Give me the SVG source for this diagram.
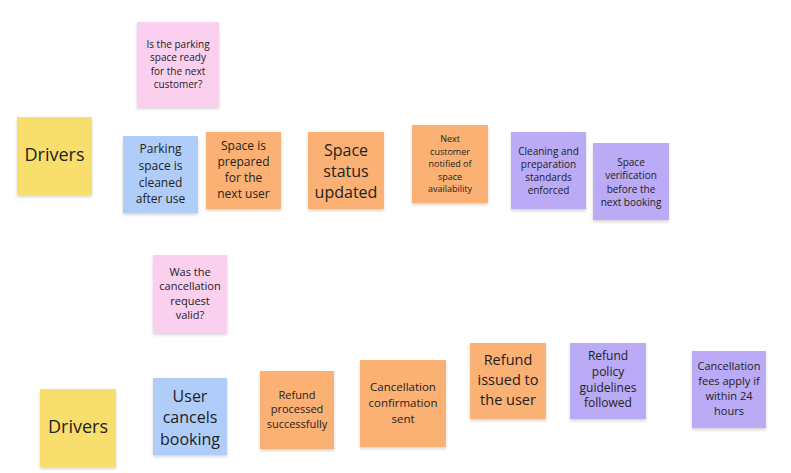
<svg xmlns="http://www.w3.org/2000/svg" width="791" height="473" viewBox="0 0 791 473">
<defs>
<filter id="sh" x="-20%" y="-20%" width="140%" height="150%">
<feDropShadow dx="0" dy="2" stdDeviation="1.6" flood-color="#000" flood-opacity="0.16"/>
</filter>
<style>
.n{filter:url(#sh)}
.y{fill:#f8df6d}
.p{fill:#fbd0ef}
.b{fill:#afcdf8}
.o{fill:#fbb173}
.v{fill:#bbaaf5}
text{font-family:"Open Sans","DejaVu Sans",sans-serif;fill:#222;text-anchor:middle}
</style>
</defs>
<rect width="791" height="473" fill="#fff"/>
<g id="connectors"/>
<g id="drivers1"><rect class="n y" x="17" y="117" width="75" height="78"/><text x="54.5" y="161" font-size="18">Drivers</text></g>
<g id="q1"><rect class="n p" x="137" y="22" width="82" height="85"/><text font-size="10"><tspan x="178" y="47.5">Is the parking</tspan><tspan x="178" y="61">space ready</tspan><tspan x="178" y="74.5">for the next</tspan><tspan x="178" y="88">customer?</tspan></text></g>
<g id="cleaned"><rect class="n b" x="123" y="136" width="75" height="77"/><text font-size="12"><tspan x="160.5" y="153">Parking</tspan><tspan x="160.5" y="170">space is</tspan><tspan x="160.5" y="186.5">cleaned</tspan><tspan x="160.5" y="203">after use</tspan></text></g>
<g id="prepared"><rect class="n o" x="206" y="132" width="75" height="77"/><text font-size="12"><tspan x="243.5" y="150">Space is</tspan><tspan x="243.5" y="166">prepared</tspan><tspan x="243.5" y="182">for the</tspan><tspan x="243.5" y="198">next user</tspan></text></g>
<g id="status"><rect class="n o" x="308" y="132" width="76" height="77"/><text font-size="16"><tspan x="346" y="155.6">Space</tspan><tspan x="346" y="176.6">status</tspan><tspan x="346" y="197.6">updated</tspan></text></g>
<g id="notified"><rect class="n o" x="412" y="125" width="76" height="78"/><text font-size="9"><tspan x="450" y="142.2">Next</tspan><tspan x="450" y="154.7">customer</tspan><tspan x="450" y="167.2">notified of</tspan><tspan x="450" y="179.7">space</tspan><tspan x="450" y="192.2">availability</tspan></text></g>
<g id="standards"><rect class="n v" x="511" y="132" width="75" height="77"/><text font-size="10"><tspan x="548.5" y="154.5">Cleaning and</tspan><tspan x="548.5" y="167.5">preparation</tspan><tspan x="548.5" y="180.5">standards</tspan><tspan x="548.5" y="193.5">enforced</tspan></text></g>
<g id="verification"><rect class="n v" x="593" y="143" width="76" height="77"/><text font-size="10"><tspan x="631" y="165.5">Space</tspan><tspan x="631" y="179">verification</tspan><tspan x="631" y="192.5">before the</tspan><tspan x="631" y="206">next booking</tspan></text></g>
<g id="q2"><rect class="n p" x="153" y="255" width="74" height="78"/><text font-size="11"><tspan x="190" y="275.9">Was the</tspan><tspan x="190" y="290.4">cancellation</tspan><tspan x="190" y="304.9">request</tspan><tspan x="190" y="319.4">valid?</tspan></text></g>
<g id="drivers2"><rect class="n y" x="40" y="389" width="76" height="78"/><text x="78" y="433" font-size="18">Drivers</text></g>
<g id="cancels"><rect class="n b" x="153" y="378" width="74" height="77"/><text font-size="16"><tspan x="190" y="401.6">User</tspan><tspan x="190" y="423.1">cancels</tspan><tspan x="190" y="444.6">booking</tspan></text></g>
<g id="processed"><rect class="n o" x="260" y="371" width="74" height="78"/><text font-size="11"><tspan x="297" y="398.9">Refund</tspan><tspan x="297" y="413.4">processed</tspan><tspan x="297" y="427.9">successfully</tspan></text></g>
<g id="confirmation"><rect class="n o" x="360" y="360" width="86" height="87"/><text font-size="11.5"><tspan x="403" y="391">Cancellation</tspan><tspan x="403" y="407">confirmation</tspan><tspan x="403" y="423">sent</tspan></text></g>
<g id="issued"><rect class="n o" x="470" y="343" width="76" height="76"/><text font-size="14.5"><tspan x="508" y="365">Refund</tspan><tspan x="508" y="385">issued to</tspan><tspan x="508" y="405">the user</tspan></text></g>
<g id="policy"><rect class="n v" x="570" y="343" width="76" height="76"/><text font-size="12"><tspan x="608" y="360.2">Refund</tspan><tspan x="608" y="375.9">policy</tspan><tspan x="608" y="391.6">guidelines</tspan><tspan x="608" y="407.2">followed</tspan></text></g>
<g id="fees"><rect class="n v" x="692" y="351" width="74" height="77"/><text font-size="11"><tspan x="729" y="369.9">Cancellation</tspan><tspan x="729" y="384.9">fees apply if</tspan><tspan x="729" y="399.9">within 24</tspan><tspan x="729" y="414.9">hours</tspan></text></g>
</svg>
